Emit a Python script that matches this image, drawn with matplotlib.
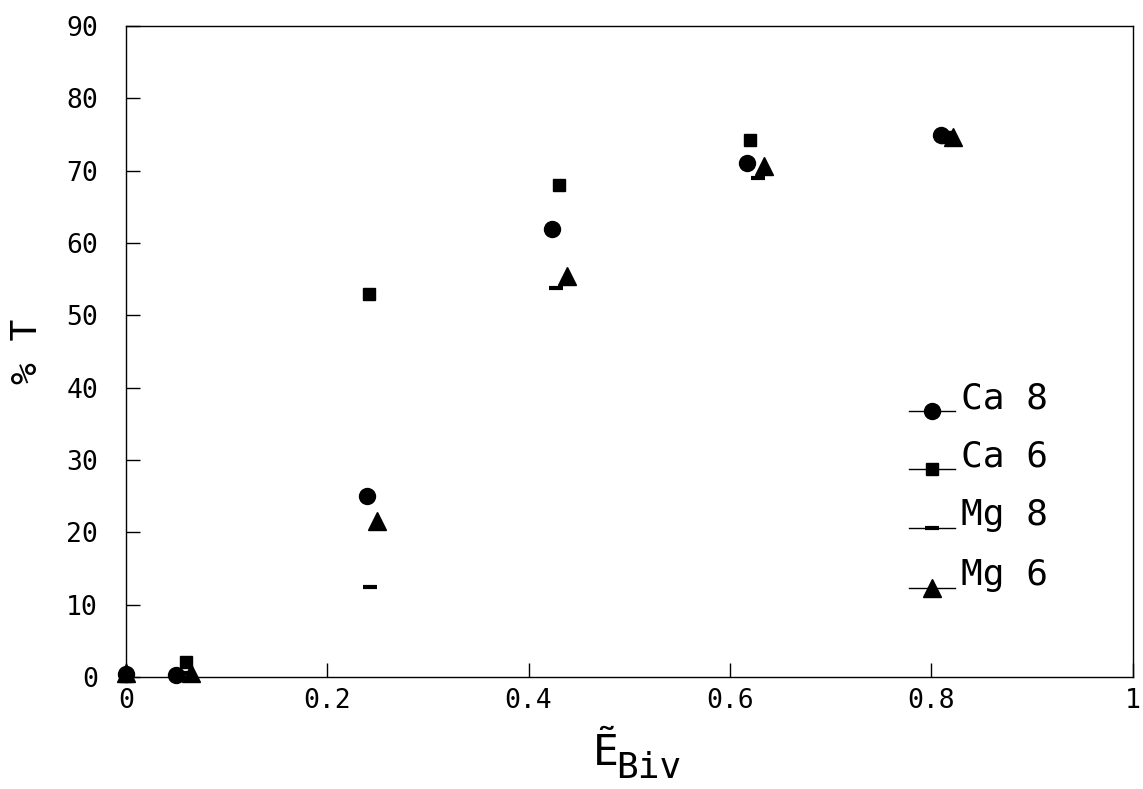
import numpy as np
import matplotlib
matplotlib.use("Agg")
import matplotlib.pyplot as plt

plt.rcParams['font.family'] = ['DejaVu Sans Mono', 'DejaVu Sans']

# transmission (%T) vs reduced bivalent energy, per ion / coordination
x_ca8 = [0.0, 0.05, 0.240, 0.423, 0.617, 0.810]
y_ca8 = [0.4, 0.3, 25.0, 62.0, 71.0, 75.0]
x_ca6 = [0.0, 0.060, 0.242, 0.430, 0.620, 0.815]
y_ca6 = [0.2, 2.0, 53.0, 68.0, 74.3, 74.6]
x_mg8 = [0.0, 0.062, 0.243, 0.427, 0.628, 0.815]
y_mg8 = [0.2, 0.5, 12.5, 53.8, 69.0, 74.5]
x_mg6 = [0.0, 0.065, 0.250, 0.438, 0.634, 0.822]
y_mg6 = [0.6, 0.6, 21.5, 55.5, 70.7, 74.6]

labels = ["Ca 8", "Ca 6", "Mg 8", "Mg 6"]
xticks = [0, 0.2, 0.4, 0.6, 0.8, 1.0]
xticklabels = ["0", "0.2", "0.4", "0.6", "0.8", "1"]
yticks = np.arange(0, 100, 10)

styles = [dict(marker='o', ms=11.5),
          dict(marker='s', ms=8.5),
          dict(marker='_', ms=9.5, mew=3),
          dict(marker='^', ms=12.5)]

fig = plt.figure(figsize=(11.43, 7.89), dpi=100)
ax = fig.add_axes([0.110, 0.142, 0.881, 0.825])

series = [(x_ca8, y_ca8), (x_ca6, y_ca6), (x_mg8, y_mg8), (x_mg6, y_mg6)]
for (xs, ys), st in zip(series, styles):
    ax.plot(xs, ys, ls='none', color='k', clip_on=False, **st)

ax.set_xlim(0, 1)
ax.set_ylim(0, 90)
ax.set_xticks(xticks)
ax.set_xticklabels(xticklabels)
ax.set_yticks(yticks)
ax.tick_params(direction='in', length=10, width=1.0, labelsize=19, top=False, right=False)
ax.tick_params(axis='y', pad=20)
ax.tick_params(axis='x', pad=8)
for sp in ax.spines.values():
    sp.set_linewidth(1.0)

ax.set_ylabel("% T", fontsize=26, labelpad=16)

# x label: E tilde with a full-size "Biv" subscript
fig.text(0.519, 0.030, "\u1EBC", fontsize=31, va='baseline', ha='left')
fig.text(0.539, 0.014, "Biv", fontsize=26, va='baseline', ha='left')

# hand-placed key: short line with the marker in the middle, text after it
key_y = [0.409, 0.320, 0.229, 0.137]
for lab, st, ky in zip(labels, styles, key_y):
    ax.plot([0.778, 0.801, 0.824], [ky, ky, ky], color='k', lw=1.0,
            markevery=[1], transform=ax.transAxes, clip_on=False, **st)
    ax.text(0.829, ky + 0.004, lab, transform=ax.transAxes,
            fontsize=26, va='baseline', ha='left')

fig.savefig("out.png", dpi=100)
